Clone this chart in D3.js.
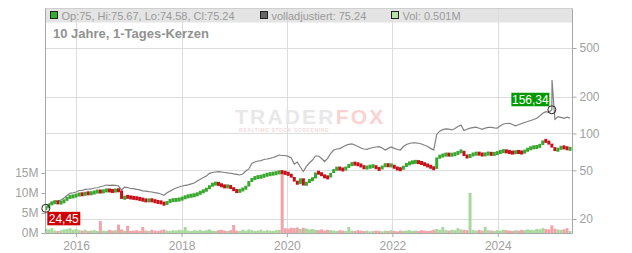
<!DOCTYPE html>
<html>
<head>
<meta charset="utf-8">
<script src="https://cdn.jsdelivr.net/npm/d3@7"></script>
<style>
  html, body { margin: 0; padding: 0; background: #fff; }
  svg { display: block; font-family: "Liberation Sans", Arial, sans-serif; }
</style>
</head>
<body>
<svg id="chart" width="632" height="253"></svg>
<script>
// Candle closes (3-week sampling), 2015-06 .. 2025-05
const closes = [
  24.45, 26.5, 27.2, 27.7, 27.0, 27.5, 28.3, 30.2, 30.4, 30.8,
  31.4, 32.0, 31.7, 32.6, 32.3, 32.6, 33.25, 33.8, 33.3, 34.0,
  34.5, 34.0, 33.8, 34.5, 34.2, 29.2, 30.5, 30.2, 29.85, 29.7,
  29.4, 29.0, 28.6, 28.2, 28.6, 28.3, 27.65, 27.5, 27.2, 26.2,
  27.8, 28.4, 28.6, 28.7, 29.0, 29.7, 30.5, 30.8, 31.2, 31.4,
  32.3, 33.25, 34.2, 35.2, 37.6, 38.7, 39.2, 38.3, 37.2, 36.7,
  37.2, 35.85, 34.3, 33.4, 34.5, 35.2, 36.85, 40.9, 42.5, 43.9,
  44.1, 44.5, 45.7, 46.3, 46.7, 47.2, 47.6, 48.7, 48.0, 47.3,
  46.3, 44.1, 40.5, 38.7, 43.0, 37.6, 40.1, 41.7, 42.9, 48.0,
  47.6, 45.4, 43.9, 43.7, 47.6, 51.0, 52.1, 51.3, 50.3, 53.2,
  55.3, 57.1, 56.3, 55.8, 53.8, 52.2, 53.2, 53.8, 54.25, 51.8,
  50.8, 54.8, 55.3, 54.8, 54.8, 52.2, 51.3, 50.8, 54.25, 56.3,
  57.7, 58.5, 58.8, 57.9, 56.9, 55.3, 54.25, 52.7, 51.3, 63.7,
  65.5, 66.7, 67.7, 66.7, 67.4, 68.0, 70.6, 72.2, 65.5, 64.3,
  66.7, 68.0, 68.8, 68.0, 66.7, 68.3, 68.8, 67.6, 68.6, 69.6,
  71.6, 71.9, 71.0, 70.0, 69.6, 71.0, 70.3, 69.6, 72.5, 74.7,
  76.8, 77.3, 77.8, 80.6, 87.7, 86.4, 82.1, 77.3, 71.9, 75.4,
  77.3, 76.8, 74.7, 75.24
];

// "volladjustiert" line, same dates
const adjusted = [
  24.45, 26.5, 27.3, 27.9, 28.0, 28.6, 29.7, 31.1, 32.4, 32.8,
  33.25, 34.2, 34.2, 34.9, 35.0, 35.2, 35.85, 36.0, 36.7, 37.2,
  37.9, 37.6, 37.9, 37.6, 37.2, 34.5, 36.5, 36.2, 35.5, 35.4,
  34.9, 34.6, 34.0, 33.8, 33.5, 33.25, 32.9, 32.6, 32.0, 31.3,
  32.8, 33.8, 34.9, 35.85, 36.5, 37.2, 37.6, 38.0, 38.7, 39.4,
  40.9, 42.2, 43.7, 44.95, 47.2, 48.0, 48.45, 48.7, 48.45, 48.0,
  47.6, 47.3, 46.7, 46.3, 45.8, 46.7, 49.3, 51.3, 56.9, 58.5,
  59.6, 60.1, 61.3, 61.9, 62.6, 63.7, 65.0, 66.7, 66.1, 66.1,
  65.0, 63.1, 56.3, 58.5, 53.2, 48.9, 53.8, 57.4, 60.7, 65.5,
  65.5, 62.5, 59.0, 62.6, 68.6, 73.3, 74.7, 75.3, 77.6, 80.1,
  81.4, 82.1, 80.6, 78.3, 76.1, 74.7, 74.3, 75.8, 76.8, 77.6,
  78.0, 76.1, 73.3, 75.6, 77.6, 75.6, 74.0, 73.3, 78.3, 81.4,
  82.9, 84.0, 83.7, 83.2, 82.1, 80.1, 78.3, 75.6, 73.3, 98.2,
  104.5, 107.6, 109.0, 108.5, 106.9, 110.0, 114.2, 117.4, 105.8, 108.3,
  110.5, 111.5, 112.6, 110.5, 108.3, 110.5, 112.2, 112.2, 111.0, 110.5,
  115.6, 119.6, 120.7, 121.2, 118.5, 115.6, 117.8, 120.7, 123.1, 125.3,
  127.8, 130.2, 133.2, 139.1, 146.2, 150.9, 149.0, 156.34, 130.7, 137.3,
  135.3, 133.2, 135.8, 133.2
];
// single intraday outlier in the adjusted line, right after the marked point
const adjustedSpike = { index: 167, value: 274 };

// Volume in millions
const volumes = [
  1.1, 0.9, 1.2, 0.6, 0.5, 0.7, 0.9, 1.0, 1.2, 0.8,
  1.0, 0.7, 0.6, 0.8, 0.5, 0.6, 0.7, 0.5, 3.0, 0.6,
  0.5, 0.8, 0.6, 0.7, 2.1, 0.9, 0.6, 1.8, 0.5, 0.6,
  0.7, 0.5, 1.5, 0.6, 0.5, 0.8, 0.6, 0.5, 0.7, 0.9,
  0.6, 0.5, 0.7, 0.6, 0.8, 0.7, 1.5, 0.6, 0.5, 0.7,
  0.6, 0.8, 0.5, 0.7, 0.9, 0.6, 0.5, 0.7, 0.8, 0.6,
  0.5, 0.7, 2.0, 0.6, 0.5, 0.8, 0.6, 0.9, 0.7, 0.5,
  0.6, 0.8, 0.5, 0.7, 0.6, 0.5, 0.7, 0.8, 15, 1.2,
  1.1, 1.3, 1.2, 1.4, 1.0, 1.3, 1.1, 0.9, 1.0, 0.8,
  0.7, 0.9, 0.6, 0.8, 0.7, 0.6, 0.5, 0.7, 0.6, 0.5,
  1.5, 0.6, 0.5, 0.7, 0.6, 0.5, 0.6, 0.4, 0.5, 0.6,
  0.5, 0.4, 0.6, 0.5, 0.7, 0.5, 0.4, 0.6, 0.5, 0.6,
  0.7, 0.5, 0.6, 0.5, 0.7, 0.6, 0.5, 0.6, 0.8, 1.0,
  0.8, 1.5, 0.7, 0.6, 0.8, 0.7, 1.2, 0.9, 0.8, 0.7,
  10, 0.7, 0.6, 0.8, 0.6, 1.5, 0.7, 0.6, 0.5, 0.7,
  0.6, 0.8, 0.7, 0.6, 0.5, 0.7, 0.6, 0.8, 0.7, 0.9,
  0.8, 0.7, 1.0, 0.9, 1.2, 1.0, 0.9, 1.9, 1.1, 0.9,
  0.8, 0.9, 1.2, 0.5
];

const priceTicks = [20, 50, 100, 200, 500];
const volumeTicks = [0, 5, 10, 15];
const yearTicks = [2016, 2018, 2020, 2022, 2024];
const legendItems = [
  { text: 'Op:75, Hi:75.67, Lo:74.58, Cl:75.24', fill: '#33b02a', x: 50.5 },
  { text: 'volladjustiert: 75.24', fill: '#666666', x: 260.5 },
  { text: 'Vol: 0.501M', fill: '#b8e2aa', x: 391.5 }
];
const title = '10 Jahre, 1-Tages-Kerzen';

// Dates: one sample every 21 days from the first session
const startDate = new Date(2015, 5, 5);
const dates = closes.map((_, i) => d3.timeDay.offset(startDate, i * 21));

const data = closes.map((c, i) => ({
  date: dates[i],
  open: i === 0 ? c : closes[i - 1],
  close: c,
  adj: adjusted[i],
  vol: volumes[i]
}));

// Plot geometry
const plotLeft = 45.5, plotRight = 572.5, plotTop = 8.5, plotBottom = 233;

const svg = d3.select('#chart');

const x = d3.scaleTime()
  .domain([new Date(2015, 5, 3), new Date(2025, 5, 2)])
  .range([plotLeft, plotRight]);

const y = d3.scaleLog()
  .domain([20, 500])
  .range([219, 48]);

const yVol = d3.scaleLinear()
  .domain([0, 15])
  .range([plotBottom, 173]);

const deFormat = d3.formatLocale({ decimal: ',', thousands: '.', grouping: [3], currency: ['', '€'] }).format('.2f');

const labelGrey = '#a0a0a0';
const gridColor = '#dcdcdc';

// Header band
svg.append('rect')
  .attr('x', plotLeft).attr('y', plotTop)
  .attr('width', plotRight - plotLeft).attr('height', 14)
  .attr('fill', '#e4e4e4');

// Grid
const grid = svg.append('g').attr('class', 'grid');
grid.selectAll('.hgrid')
  .data(priceTicks)
  .join('line')
  .attr('x1', plotLeft).attr('x2', plotRight)
  .attr('y1', d => Math.round(y(d)) + 0.5)
  .attr('y2', d => Math.round(y(d)) + 0.5)
  .attr('stroke', gridColor);

grid.selectAll('.vgrid')
  .data(yearTicks)
  .join('line')
  .attr('x1', d => Math.round(x(new Date(d, 0, 1))) + 0.5)
  .attr('x2', d => Math.round(x(new Date(d, 0, 1))) + 0.5)
  .attr('y1', plotTop).attr('y2', plotBottom)
  .attr('stroke', gridColor);

// Frame
svg.append('line')
  .attr('x1', plotLeft).attr('x2', plotRight).attr('y1', plotTop).attr('y2', plotTop)
  .attr('stroke', '#cfcfcf');

// Watermark
const wm = svg.append('g').attr('class', 'watermark');
const wmText = wm.append('text')
  .attr('x', 235).attr('y', 124)
  .attr('font-size', 21).attr('font-weight', 'bold')
  .attr('letter-spacing', 2.2);
wmText.append('tspan').attr('fill', '#e8e8e8').text('TRADER');
wmText.append('tspan').attr('fill', '#fad2d2').text('FOX');
wm.append('text')
  .attr('x', 239).attr('y', 132)
  .attr('font-size', 5).attr('font-weight', 'bold')
  .attr('textLength', 90)
  .attr('fill', '#f0dcdc')
  .text('REALTIME STOCK SCREENING');

// Clip plot marks
svg.append('clipPath').attr('id', 'plot-clip')
  .append('rect')
  .attr('x', plotLeft).attr('y', plotTop + 14)
  .attr('width', plotRight - plotLeft).attr('height', plotBottom - plotTop - 14);

const marks = svg.append('g').attr('clip-path', 'url(#plot-clip)');

// Volume bars
marks.append('g').attr('class', 'volume')
  .selectAll('rect')
  .data(data)
  .join('rect')
  .attr('x', d => x(d.date) - 1.5)
  .attr('width', 3)
  .attr('y', d => yVol(d.vol))
  .attr('height', d => plotBottom - yVol(d.vol))
  .attr('fill', d => d.close >= d.open ? '#a8d89c' : '#f2a3aa');

// Adjusted line (with the one-day outlier)
const adjPoints = data.map(d => ({ date: d.date, v: d.adj }));
adjPoints.splice(adjustedSpike.index + 1, 0, {
  date: d3.timeDay.offset(dates[adjustedSpike.index], 1),
  v: adjustedSpike.value
});

marks.append('path')
  .datum(adjPoints)
  .attr('fill', 'none')
  .attr('stroke', '#808080')
  .attr('stroke-width', 1.2)
  .attr('d', d3.line().x(d => x(d.date)).y(d => y(d.v)));

// Candles (open = previous close)
const minBody = 4;
marks.append('g').attr('class', 'candles')
  .selectAll('rect')
  .data(data)
  .join('rect')
  .attr('x', d => x(d.date) - 1.5)
  .attr('width', 3)
  .attr('y', d => {
    const y0 = y(Math.max(d.open, d.close));
    const h = Math.abs(y(d.open) - y(d.close));
    return h < minBody ? y0 - (minBody - h) / 2 : y0;
  })
  .attr('height', d => Math.max(minBody, Math.abs(y(d.open) - y(d.close))))
  .attr('fill', d => d.close >= d.open ? '#3aa82e' : '#c8101a');

// Axes
const axisColor = '#a8a8a8';

const xAxis = svg.append('g')
  .attr('transform', `translate(0,${plotBottom})`)
  .call(d3.axisBottom(x)
    .tickValues(yearTicks.map(yr => new Date(yr, 0, 1)))
    .tickFormat(d3.timeFormat('%Y'))
    .tickSize(4).tickSizeOuter(0));

const yAxisRight = svg.append('g')
  .attr('transform', `translate(${plotRight},0)`)
  .call(d3.axisRight(y)
    .tickValues(priceTicks)
    .tickFormat(d3.format('d'))
    .tickSize(4).tickSizeOuter(0));

const yAxisLeft = svg.append('g')
  .attr('transform', `translate(${plotLeft},0)`)
  .call(d3.axisLeft(yVol)
    .tickValues(volumeTicks)
    .tickFormat(d => d + 'M')
    .tickSize(4).tickSizeOuter(0));

[xAxis, yAxisRight, yAxisLeft].forEach(a => {
  a.select('.domain').remove();
  a.selectAll('line').attr('stroke', axisColor);
  a.selectAll('text')
    .attr('fill', labelGrey)
    .style('font-size', '12px')
    .style('font-family', '"Liberation Sans", Arial, sans-serif');
});
xAxis.selectAll('text').attr('dy', '0.85em');

// Axis lines
svg.append('line')
  .attr('x1', plotLeft).attr('x2', plotLeft).attr('y1', plotTop).attr('y2', plotBottom)
  .attr('stroke', axisColor);
svg.append('line')
  .attr('x1', plotRight).attr('x2', plotRight).attr('y1', plotTop).attr('y2', plotBottom)
  .attr('stroke', axisColor);
svg.append('line')
  .attr('x1', plotLeft).attr('x2', plotRight).attr('y1', plotBottom + 0.5).attr('y2', plotBottom + 0.5)
  .attr('stroke', axisColor);

// Legend
const legend = svg.append('g').attr('class', 'legend');
legendItems.forEach(item => {
  legend.append('rect')
    .attr('x', item.x).attr('y', 11.5)
    .attr('width', 7).attr('height', 7)
    .attr('fill', item.fill)
    .attr('stroke', '#222');
  legend.append('text')
    .attr('x', item.x + 11).attr('y', 19.5)
    .attr('font-size', 11)
    .attr('fill', '#999')
    .text(item.text);
});

svg.append('text')
  .attr('x', 53).attr('y', 38)
  .attr('font-size', 13).attr('font-weight', 'bold')
  .attr('fill', '#919191')
  .text(title);

// Markers and value labels
const first = data[0];
const marked = data[adjustedSpike.index];

const markers = [
  { date: first.date, v: first.close, fill: '#d00000', dx: 1.5, dy: 3.5, w: 33 },
  { date: marked.date, v: marked.adj, fill: '#009a00', dx: -40.5, dy: -17, w: 38 }
];

markers.forEach(m => {
  const px = x(m.date), py = y(m.v);
  svg.append('circle')
    .attr('cx', px).attr('cy', py).attr('r', 4)
    .attr('fill', 'none')
    .attr('stroke', '#222')
    .attr('stroke-width', 1);
  svg.append('rect')
    .attr('x', px + m.dx).attr('y', py + m.dy)
    .attr('width', m.w).attr('height', 13.5)
    .attr('fill', m.fill);
  svg.append('text')
    .attr('x', px + m.dx + m.w / 2).attr('y', py + m.dy + 11)
    .attr('text-anchor', 'middle')
    .attr('font-size', 12)
    .attr('fill', '#fff')
    .text(deFormat(m.v));
});
</script>
</body>
</html>
